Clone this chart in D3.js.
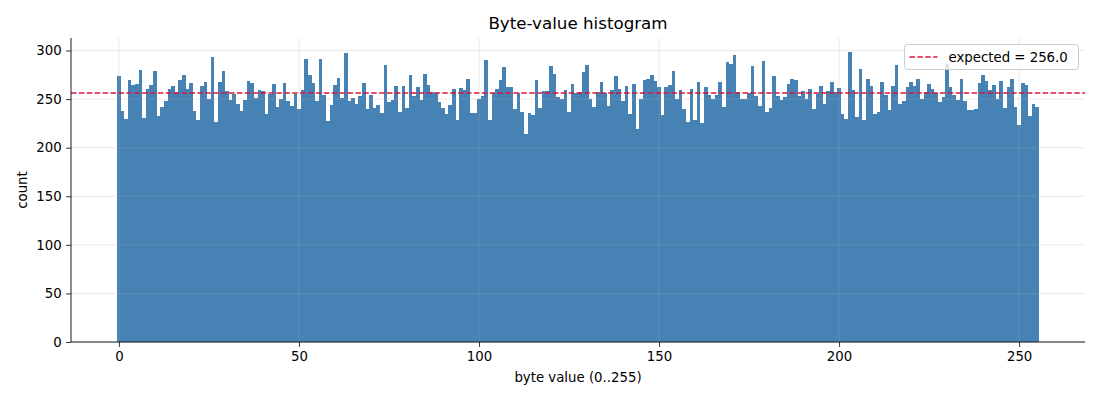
<!DOCTYPE html>
<html>
  <head>
    <meta charset="utf-8">
    <title>Byte-value histogram</title>
    <style>

body {
  margin: 0;
  background: #fff;
}
text {
  font-family: "DejaVu Sans", sans-serif;
  fill: #000;
}

    </style>
  </head>
  <body>
    <div id="chart"></div>
    <script src="https://cdn.jsdelivr.net/npm/d3@7"></script>
    <script>

    // counts per byte value 0..255
    var counts = [
      274, 238, 230, 270, 265, 266, 280, 231, 260, 265, 279, 233, 242, 248, 260, 263,
      257, 270, 275, 260, 267, 238, 228, 264, 268, 250, 293, 226, 268, 279, 258, 249,
      255, 245, 238, 249, 269, 267, 251, 259, 258, 235, 255, 266, 242, 250, 267, 248,
      243, 255, 240, 259, 291, 275, 267, 248, 291, 254, 227, 244, 265, 272, 251, 297,
      248, 251, 245, 253, 267, 240, 254, 241, 244, 236, 285, 247, 249, 264, 237, 264,
      241, 275, 253, 262, 249, 276, 265, 257, 256, 247, 241, 235, 244, 260, 229, 261,
      259, 271, 236, 236, 250, 253, 290, 229, 256, 260, 270, 283, 262, 262, 240, 256,
      237, 214, 236, 234, 270, 241, 258, 258, 284, 276, 252, 250, 259, 237, 266, 256,
      257, 278, 285, 250, 242, 257, 268, 256, 243, 259, 274, 260, 248, 263, 235, 266,
      219, 250, 270, 271, 275, 269, 262, 234, 262, 265, 279, 250, 259, 240, 226, 260,
      228, 268, 225, 262, 254, 250, 254, 268, 242, 288, 286, 295, 257, 250, 250, 256,
      284, 253, 243, 289, 237, 241, 274, 253, 249, 252, 266, 271, 270, 253, 258, 250,
      260, 240, 255, 263, 245, 258, 268, 257, 261, 235, 230, 298, 259, 232, 281, 228,
      271, 263, 235, 237, 268, 254, 239, 264, 285, 245, 248, 262, 268, 263, 271, 250,
      257, 266, 260, 256, 247, 252, 286, 262, 254, 249, 271, 248, 239, 239, 240, 267,
      275, 269, 259, 265, 250, 269, 241, 262, 271, 242, 223, 267, 265, 233, 245, 242
    ];
    var expected = 256.0;
    var xTicks = [0, 50, 100, 150, 200, 250];
    var yTicks = [0, 50, 100, 150, 200, 250, 300];

    var width = 1100,
        height = 400,
        margin = {top: 38, right: 15, bottom: 58, left: 71};

    var svg = d3.select('#chart').append('svg')
        .attr('width', width)
        .attr('height', height);

    // matplotlib-ish limits: 5% padding on x, bars stick to 0 on y
    var pad = 256 * 0.05;
    var x = d3.scaleLinear()
        .domain([-0.5 - pad, 255.5 + pad])
        .range([margin.left, width - margin.right]);
    var y = d3.scaleLinear()
        .domain([0, d3.max(counts) * 1.05])
        .range([height - margin.bottom, margin.top]);

    // snap bar edges to whole pixels so neighbours touch without seams
    function left(i) { return Math.round(x(i - 0.5)); }

    var bars = svg.append('g')
        .attr('shape-rendering', 'crispEdges');
    bars.selectAll('rect')
        .data(counts)
        .enter()
        .append('rect')
          .attr('x', function(d, i) { return left(i); })
          .attr('width', function(d, i) { return left(i + 1) - left(i); })
          .attr('y', function(d) { return Math.round(y(d)); })
          .attr('height', function(d) { return Math.round(y(0)) - Math.round(y(d)); })
          .style('fill', 'steelblue');

    // grid sits on top of the bars, faint
    var grid = svg.append('g')
        .style('stroke', '#b0b0b0')
        .style('stroke-opacity', 0.35)
        .style('stroke-width', 0.8);
    grid.selectAll('.gx')
        .data(xTicks)
        .enter()
        .append('line')
          .attr('x1', function(d) { return x(d); })
          .attr('x2', function(d) { return x(d); })
          .attr('y1', margin.top)
          .attr('y2', height - margin.bottom);
    grid.selectAll('.gy')
        .data(yTicks)
        .enter()
        .append('line')
          .attr('x1', margin.left)
          .attr('x2', width - margin.right)
          .attr('y1', function(d) { return y(d); })
          .attr('y2', function(d) { return y(d); });

    // dashed reference line, 1.5px wide over two pixel rows like the original
    var red = '#dc143c';
    var yExp = Math.round(y(expected));
    svg.append('line')
        .attr('x1', margin.left)
        .attr('x2', width - margin.right)
        .attr('y1', yExp)
        .attr('y2', yExp)
        .style('stroke', red)
        .style('stroke-width', 1.6)
        .style('stroke-dasharray', '5.5,2.4');

    var xAxis = svg.append('g')
        .attr('transform', 'translate(0,' + (height - margin.bottom) + ')')
        .call(d3.axisBottom(x).tickValues(xTicks).tickSize(4.9).tickPadding(4.5));
    var yAxis = svg.append('g')
        .attr('transform', 'translate(' + margin.left + ',0)')
        .call(d3.axisLeft(y).tickValues(yTicks).tickSize(4.9).tickPadding(4.5));

    [xAxis, yAxis].forEach(function(ax) {
      ax.select('.domain').remove();
      ax.selectAll('line').style('stroke', '#000').style('stroke-width', 0.8);
      ax.selectAll('text')
          .style('font-family', '"DejaVu Sans", sans-serif')
          .style('font-size', '13.3px')
          .style('fill', '#000');
    });

    // only left and bottom spines
    svg.append('line')
        .attr('x1', margin.left).attr('x2', margin.left)
        .attr('y1', margin.top).attr('y2', height - margin.bottom)
        .style('stroke', '#000').style('stroke-width', 0.9);
    svg.append('line')
        .attr('x1', margin.left).attr('x2', width - margin.right)
        .attr('y1', height - margin.bottom).attr('y2', height - margin.bottom)
        .style('stroke', '#000').style('stroke-width', 0.9);

    svg.append('text')
        .attr('x', (margin.left + width - margin.right) / 2)
        .attr('y', 29)
        .attr('text-anchor', 'middle')
        .style('font-size', '16.7px')
        .text('Byte-value histogram');

    svg.append('text')
        .attr('x', (margin.left + width - margin.right) / 2)
        .attr('y', 382)
        .attr('text-anchor', 'middle')
        .style('font-size', '13.3px')
        .text('byte value (0..255)');

    svg.append('text')
        .attr('transform', 'translate(27,' + ((margin.top + height - margin.bottom) / 2) + ') rotate(-90)')
        .attr('text-anchor', 'middle')
        .style('font-size', '13.3px')
        .text('count');

    // legend, upper right
    var legend = svg.append('g')
        .attr('transform', 'translate(904.5,44.5)');
    legend.append('rect')
        .attr('width', 174)
        .attr('height', 25)
        .attr('rx', 3)
        .style('fill', '#fff')
        .style('fill-opacity', 0.8)
        .style('stroke', '#cccccc')
        .style('stroke-width', 1);
    legend.append('line')
        .attr('x1', 5)
        .attr('x2', 33)
        .attr('y1', 12.5)
        .attr('y2', 12.5)
        .style('stroke', red)
        .style('stroke-width', 1.6)
        .style('stroke-dasharray', '5.5,2.4');
    legend.append('text')
        .attr('x', 44)
        .attr('y', 17.5)
        .style('font-size', '13.3px')
        .text('expected = ' + expected.toFixed(1));

    </script>
  </body>
</html>
